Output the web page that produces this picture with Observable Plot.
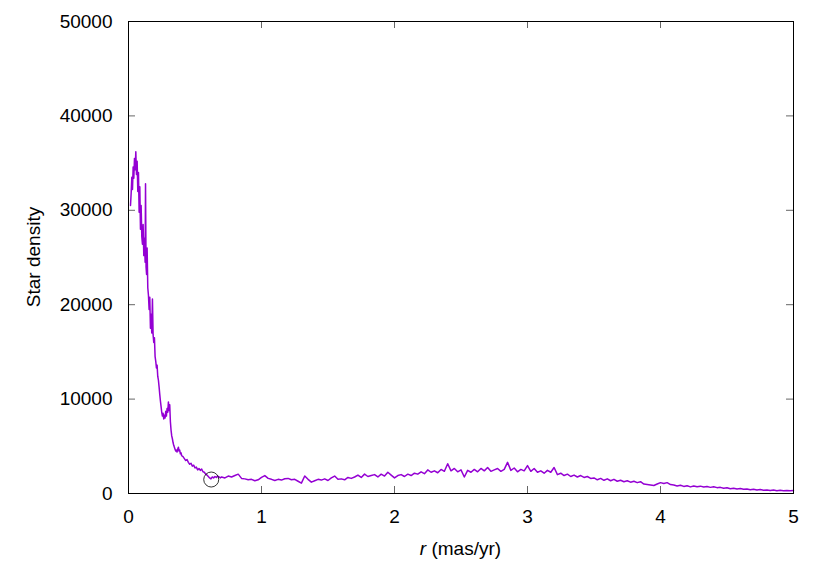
<!DOCTYPE html>
<html><head><meta charset="utf-8">
<script src="https://cdn.jsdelivr.net/npm/d3@7"></script>
<script src="https://cdn.jsdelivr.net/npm/@observablehq/plot@0.6"></script>
<style>body{margin:0;background:#fff}</style>
</head><body><div id="chart"></div>
<script>
const r = [
0.015,0.02,0.025,0.03,0.035,0.04,0.045,0.05,0.055,0.06,0.065,0.07,0.075,0.08,0.085,0.09,0.095,0.1,0.105,0.11,
0.115,0.12,0.125,0.128,0.132,0.136,0.14,0.145,0.15,0.155,0.16,0.165,0.17,0.175,0.18,0.185,0.19,0.195,0.2,0.205,
0.21,0.215,0.22,0.225,0.23,0.235,0.24,0.245,0.25,0.255,0.26,0.265,0.27,0.275,0.28,0.285,0.29,0.295,0.3,0.305,
0.31,0.315,0.32,0.325,0.33,0.335,0.34,0.345,0.35,0.355,0.36,0.365,0.37,0.375,0.38,0.385,0.39,0.395,0.4,
0.41,0.42,0.43,0.44,0.45,0.46,0.47,0.48,0.49,0.5,0.51,0.52,0.53,0.54,0.55,0.56,0.57,0.58,0.59,0.6,
0.61,0.62,0.63,0.64,0.65,0.66,0.67,0.68,0.69,
0.7,0.725,0.75,0.775,0.8,0.825,0.85,0.875,0.9,0.925,0.95,0.975,
1.0,1.025,1.05,1.075,1.1,1.125,1.15,1.175,1.2,1.225,1.25,1.275,1.3,1.325,1.35,1.375,1.4,1.425,1.45,1.475,
1.5,1.525,1.55,1.575,1.6,1.625,1.65,1.675,1.7,1.725,1.75,1.775,1.8,1.825,1.85,1.875,1.9,1.925,1.95,1.975,
2.0,2.025,2.05,2.075,2.1,2.125,2.15,2.175,2.2,2.225,2.25,2.275,2.3,2.325,2.35,2.375,2.4,2.425,2.45,2.475,
2.5,2.525,2.55,2.575,2.6,2.625,2.65,2.675,2.7,2.725,2.75,2.775,2.8,2.825,2.85,2.875,2.9,2.925,2.95,2.975,
3.0,3.025,3.05,3.075,3.1,3.125,3.15,3.175,3.2,3.225,3.25,3.275,3.3,3.325,3.35,3.375,3.4,3.425,3.45,3.475,
3.5,3.525,3.55,3.575,3.6,3.625,3.65,3.675,3.7,3.725,3.75,3.775,3.8,3.825,3.85,3.875,3.9,3.925,3.95,3.975,
4.0,4.025,4.05,4.075,4.1,4.125,4.15,4.175,4.2,4.225,4.25,4.275,4.3,4.325,4.35,4.375,4.4,4.425,4.45,4.475,
4.5,4.525,4.55,4.575,4.6,4.625,4.65,4.675,4.7,4.725,4.75,4.775,4.8,4.825,4.85,4.875,4.9,4.925,4.95,4.975,5.0
];
const density = [
30500,31800,33500,32200,34600,33400,35500,34300,36200,33800,35200,32000,34000,29800,32500,28000,30500,27200,26400,28500,
25200,27000,24500,32800,24000,23200,26000,21800,21000,19500,20800,17500,19000,17000,20600,16800,16000,16500,14500,14000,
13300,13600,12400,12000,11300,10500,9800,9200,8600,8200,8500,7900,8300,8000,8700,8200,9000,8600,9700,8800,
9400,7600,6700,6100,5800,5400,5100,4900,4700,4500,4600,4400,4700,4900,4500,4600,4200,4300,4000,
3900,3700,3500,3600,3300,3100,3200,2900,3000,2700,2800,2500,2650,2450,2600,2300,2250,2050,1950,1800,
1650,1550,1750,1650,1800,1700,1850,1750,1650,
1750,1650,1850,1750,1900,2050,1600,1550,1450,1500,1350,1450,
1700,1900,1600,1500,1380,1500,1420,1560,1600,1450,1500,1300,1100,1850,1500,1200,1350,1500,1420,1550,
1380,1650,1850,1500,1550,1450,1700,1600,1750,1950,1700,2050,1800,1900,2000,1750,2050,1850,2250,1950,
1650,1900,2000,1800,2050,1900,2150,2050,2300,2100,2500,2250,2400,2200,2550,2350,3150,2400,2650,2300,
2500,1750,2450,2250,2550,2300,2650,2400,2750,2350,2500,2650,2350,2550,3300,2450,2700,2300,2550,2400,
2950,2350,2650,2250,2400,2150,2450,2250,2750,2000,2150,1900,2050,1800,1950,1750,1900,1700,1800,1600,
1650,1450,1600,1400,1550,1350,1500,1300,1400,1250,1350,1200,1300,1150,1250,1000,950,900,850,1000,
1150,1050,1150,950,900,800,880,750,820,700,800,720,780,680,740,650,720,620,650,560,
600,500,560,470,520,440,480,400,450,370,420,340,380,320,360,300,340,290,330,280,310
];
const xTicks = [0, 1, 2, 3, 4, 5];
const yTicks = [0, 10000, 20000, 30000, 40000, 50000];
const markerR = [0.622];
const markerDensity = [1480];

const data = r.map((v, i) => ({r: v, density: density[i]}));
const marker = markerR.map((v, i) => ({r: v, density: markerDensity[i]}));

const W = 830, H = 581, mt = 21, mb = 88, ml = 128, mr = 37;
const plotH = H - mt - mb, plotW = W - ml - mr, tk = 7;

const chart = Plot.plot({
  width: W, height: H,
  marginTop: mt, marginBottom: mb, marginLeft: ml, marginRight: mr,
  style: {fontFamily: "'Liberation Sans', Arial, sans-serif", fontSize: "19px", color: "black", background: "white"},
  x: {domain: [0, 5]},
  y: {domain: [0, 50000]},
  marks: [
    Plot.tickX(xTicks, {x: d => d, insetTop: plotH - tk, stroke: "#666"}),
    Plot.tickX(xTicks, {x: d => d, insetBottom: plotH - tk, stroke: "#666"}),
    Plot.tickY(yTicks, {y: d => d, insetRight: plotW - tk, stroke: "#666"}),
    Plot.tickY(yTicks, {y: d => d, insetLeft: plotW - tk, stroke: "#666"}),
    Plot.axisX(xTicks, {tickSize: 0, tickPadding: 16, label: null, fontSize: 19, tickFormat: d3.format("d")}),
    Plot.axisY(yTicks, {tickSize: 0, tickPadding: 16, label: null, fontSize: 19, tickFormat: d3.format("d")}),
    Plot.line(data, {x: "r", y: "density", stroke: "#9400D3", strokeWidth: 1.5}),
    Plot.dot(marker, {x: "r", y: "density", r: 7.5, stroke: "black", strokeWidth: 0.8, fill: "none"}),
    Plot.frame({stroke: "black", strokeWidth: 1})
  ]
});

const svg = d3.select(chart);
const xl = svg.append("text")
  .attr("x", ml + plotW / 2).attr("y", 548)
  .attr("text-anchor", "middle").attr("dominant-baseline", "central")
  .attr("font-size", 19).attr("fill", "black");
xl.append("tspan").attr("font-style", "italic").text("r");
xl.append("tspan").text(" (mas/yr)");
svg.append("text")
  .attr("transform", `translate(33,${mt + plotH / 2}) rotate(-90)`)
  .attr("text-anchor", "middle").attr("dominant-baseline", "central")
  .attr("font-size", 19).attr("fill", "black")
  .text("Star density");

document.getElementById("chart").appendChild(chart);
</script>
</body></html>
